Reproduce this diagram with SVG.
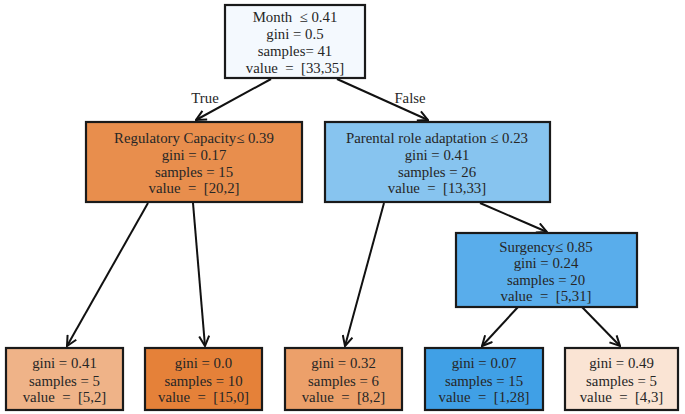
<svg xmlns="http://www.w3.org/2000/svg" width="685" height="414" viewBox="0 0 685 414">
<style>
.box{stroke:#1a1a1a;stroke-width:2.2}
.t{font-family:"Liberation Serif","DejaVu Serif",serif;font-size:14.8px;fill:#262626;text-anchor:middle;white-space:pre}
.e{stroke:#111;stroke-width:2;fill:none;marker-end:url(#a)}
</style>
<defs>
<marker id="a" viewBox="0 0 12 12" refX="11" refY="6" markerWidth="12" markerHeight="12" markerUnits="userSpaceOnUse" orient="auto">
<path d="M1,1 L11,6 L1,11" fill="none" stroke="#111" stroke-width="2"/>
</marker>
</defs>
<rect width="685" height="414" fill="#fff"/>
<g id="edges">
<line class="e" x1="271" y1="79" x2="196" y2="120"/>
<line class="e" x1="337" y1="79" x2="428" y2="120"/>
<line class="e" x1="148" y1="203" x2="67" y2="346"/>
<line class="e" x1="193" y1="203" x2="205" y2="346"/>
<line class="e" x1="384" y1="203" x2="345" y2="346"/>
<line class="e" x1="480" y1="203" x2="547" y2="232"/>
<line class="e" x1="518" y1="307" x2="482" y2="346"/>
<line class="e" x1="582" y1="307" x2="620" y2="346"/>
<text class="t" x="205" y="103">True</text>
<text class="t" x="410" y="103">False</text>
</g>
<g id="root">
<rect class="box" x="225" y="5" width="140" height="73" fill="#f4f9fe"/>
<text class="t" x="295" y="22" xml:space="preserve">Month  ≤ 0.41</text>
<text class="t" x="295" y="39">gini = 0.5</text>
<text class="t" x="295" y="56">samples= 41</text>
<text class="t" x="295" y="73" xml:space="preserve">value  =  [33,35]</text>
</g>
<g id="regulatory">
<rect class="box" x="86" y="122" width="216" height="80" fill="#e88e4d"/>
<text class="t" x="194" y="143">Regulatory Capacity≤ 0.39</text>
<text class="t" x="194" y="160">gini = 0.17</text>
<text class="t" x="194" y="177">samples = 15</text>
<text class="t" x="194" y="193" xml:space="preserve">value  =  [20,2]</text>
</g>
<g id="parental">
<rect class="box" x="325" y="122" width="225" height="80" fill="#87c4ef"/>
<text class="t" x="437" y="143">Parental role adaptation ≤ 0.23</text>
<text class="t" x="437" y="160">gini = 0.41</text>
<text class="t" x="437" y="177">samples = 26</text>
<text class="t" x="437" y="193" xml:space="preserve">value  =  [13,33]</text>
</g>
<g id="surgency">
<rect class="box" x="456" y="233" width="181" height="74" fill="#59adeb"/>
<text class="t" x="546" y="252">Surgency≤ 0.85</text>
<text class="t" x="546" y="268">gini = 0.24</text>
<text class="t" x="546" y="285">samples = 20</text>
<text class="t" x="546" y="301" xml:space="preserve">value  =  [5,31]</text>
</g>
<g id="leaf1">
<rect class="box" x="6" y="348" width="117" height="62" fill="#efb388"/>
<text class="t" x="64.5" y="368">gini = 0.41</text>
<text class="t" x="64.5" y="386">samples = 5</text>
<text class="t" x="64.5" y="402" xml:space="preserve">value  =  [5,2]</text>
</g>
<g id="leaf2">
<rect class="box" x="145" y="348" width="117" height="62" fill="#e58139"/>
<text class="t" x="203.5" y="368">gini = 0.0</text>
<text class="t" x="203.5" y="386">samples = 10</text>
<text class="t" x="203.5" y="402" xml:space="preserve">value  =  [15,0]</text>
</g>
<g id="leaf3">
<rect class="box" x="285" y="348" width="117" height="62" fill="#eca06a"/>
<text class="t" x="343.5" y="368">gini = 0.32</text>
<text class="t" x="343.5" y="386">samples = 6</text>
<text class="t" x="343.5" y="402" xml:space="preserve">value  =  [8,2]</text>
</g>
<g id="leaf4">
<rect class="box" x="425" y="348" width="118" height="62" fill="#40a0e6"/>
<text class="t" x="484" y="368">gini = 0.07</text>
<text class="t" x="484" y="386">samples = 15</text>
<text class="t" x="484" y="402" xml:space="preserve">value  =  [1,28]</text>
</g>
<g id="leaf5">
<rect class="box" x="565" y="348" width="113" height="62" fill="#fae4d4"/>
<text class="t" x="621.5" y="368">gini = 0.49</text>
<text class="t" x="621.5" y="386">samples = 5</text>
<text class="t" x="621.5" y="402" xml:space="preserve">value  =  [4,3]</text>
</g>
</svg>
